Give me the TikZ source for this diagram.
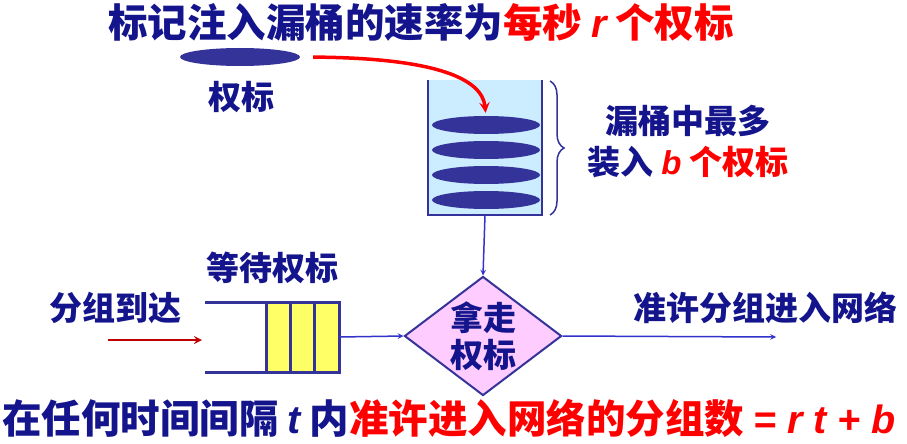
\documentclass[tikz,border=0pt]{standalone}
\usepackage{fontspec}
\newfontfamily\cjk{Noto Sans CJK SC}
\newfontfamily\lat{Liberation Sans}
\usepackage{tikz}
\usetikzlibrary{shapes,arrows,positioning,decorations.pathreplacing}
\definecolor{tokenBlue}{RGB}{51,51,153}
\definecolor{textBlue}{RGB}{20,20,140}
\definecolor{lineBlue}{RGB}{51,51,204}
\definecolor{bucketFill}{RGB}{204,236,255}
\definecolor{cellYellow}{RGB}{255,255,102}
\definecolor{diamondPink}{RGB}{255,204,255}
\definecolor{arriveRed}{RGB}{192,0,0}
\newcommand{\varit}[1]{{\lat\bfseries\itshape #1}}
\tikzstyle{txt} = [font=\cjk\bfseries\fontsize{33}{37}\selectfont, text=textBlue, inner sep=0pt]
\tikzstyle{bigtxt} = [font=\cjk\bfseries\fontsize{39.5}{44}\selectfont, text=textBlue, inner sep=0pt]
\tikzstyle{token} = [ellipse, fill=tokenBlue, inner sep=0pt, minimum width=108pt, minimum height=18pt]
\tikzstyle{cell} = [draw=tokenBlue, line width=3pt, fill=cellYellow]
\tikzstyle{line} = [draw=lineBlue, line width=1.5pt]
\tikzstyle{arrowLine} = [draw=lineBlue, line width=1.5pt, -stealth]

\begin{document}
\begin{tikzpicture}[x=1pt,y=-1pt]
		\useasboundingbox (0,0) rectangle (907,444);
		\node[bigtxt](title) at (421,22){标记注入漏桶的速率为\textcolor{red}{每秒 \varit{r} 个权标}};
		\node[token,minimum width=120pt](token) at (240,57){};
		\node[txt](tokenLabel) at (241,97){权标};
		%bucket
		\node[fill=bucketFill, inner sep=0pt, minimum width=114pt, minimum height=135pt](bucket) at (485,147.5){};
		\draw[tokenBlue, line width=2pt] (bucket.north west) -- (bucket.south west) -- (bucket.south east) -- (bucket.north east);
		\node[token](t1) at (486,125){};
		\node[token](t2) at (486,150){};
		\node[token](t3) at (486,175){};
		\node[token](t4) at (486,200){};
		\coordinate (braceTop) at (550,81);
		\coordinate (braceBottom) at (550,215);
		\draw[decorate, decoration={brace,amplitude=14pt}, tokenBlue, line width=1.5pt] (braceTop) -- (braceBottom);
		\node[txt](capLine1) at (688,121){漏桶中最多};
		\node[txt](capLine2) at (688,162){装入 \textcolor{red}{\varit{b} 个权标}};
		%queue
		\draw[tokenBlue, line width=3pt] (205,302) -- (339,302) -- (339,372) -- (205,372);
		\draw[cell] (266,302) rectangle (290,372);
		\draw[cell] (290,302) rectangle (314,372);
		\draw[cell] (314,302) rectangle (339,372);
		\coordinate (queueOut) at (339,337);
		\node[txt](waitLabel) at (272,268){等待权标};
		\node[txt](arriveLabel) at (115,308){分组到达};
		\coordinate (arriveStart) at (108,340);
		\coordinate (arriveEnd) at (202,340);
		%decision
		\node[diamond, draw=tokenBlue, line width=2pt, fill=diamondPink, txt, align=center, aspect=1.32, minimum width=156pt, minimum height=118pt](take) at (483,336){拿走\\权标};
		\coordinate (admitEnd) at (776,337);
		\node[txt](admitLabel) at (765,308){准许分组进入网络};
		\node[bigtxt](rule) at (449,418){在任何时间间隔 \varit{t} 内\textcolor{red}{准许进入网络的分组数 \varit{= r t + b}}};
		%arrows
		\draw[red, line width=3.5pt, -stealth, shorten <=13pt, shorten >=3pt] (token.east) .. controls (440,58) and (482,80) .. (t1.north);
		\path[arrowLine](bucket.south) -- (take.north);
		\path[arrowLine](queueOut) -- (take.west);
		\path[arrowLine](take.east) -- (admitEnd);
		\draw[arriveRed, line width=2.5pt, -stealth](arriveStart) -- (arriveEnd);
	\end{tikzpicture}
\end{document}
